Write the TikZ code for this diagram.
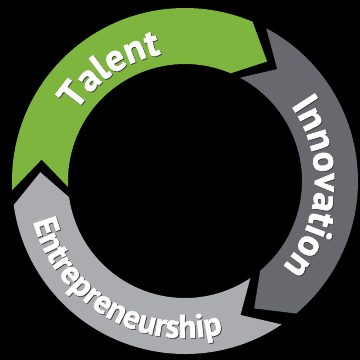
\documentclass[tikz,border=0pt]{standalone}
\usepackage{fontspec}
\setmainfont{PT Sans}[BoldFeatures={FakeBold=1.6}]
\usetikzlibrary{decorations.text}
\definecolor{tgreen}{RGB}{126,181,62}
\definecolor{tdark}{RGB}{104,105,110}
\definecolor{tlight}{RGB}{170,172,175}
\definecolor{tshade}{RGB}{60,60,60}
\newcommand\ringseg[3]{%
  \fill[#1] (#2:173pt) arc[start angle=#2, end angle=#3, radius=173pt]
    -- ({#3-11.5}:145pt) -- (#3:117pt)
    arc[start angle=#3, end angle=#2, radius=117pt]
    -- ({#2-11.5}:145pt) -- cycle;}
\tikzset{
  ringtext/.style n args={3}{decorate, decoration={text along path, text align=center, text color=#3,
    text={|\fontsize{#1}{#1}\selectfont\bfseries|#2}}}
}
\newcommand\ringlabel[6]{% size, text, start, end, radius, shade opacity
  \path[ringtext={#1}{#2}{tshade}, opacity=#6, shift={(0.8pt,-0.8pt)}] (#3:#5) arc[start angle=#3, end angle=#4, radius=#5];
  \path[ringtext={#1}{#2}{white}] (#3:#5) arc[start angle=#3, end angle=#4, radius=#5];}
\begin{document}
\begin{tikzpicture}[x=1pt,y=1pt]
\fill[black] (0,0) rectangle (360,360);
\useasboundingbox (0,0) rectangle (360,360);
\begin{scope}[shift={(185,179)}]
  \ringseg{tgreen}{183}{67}
  \ringseg{tdark}{62}{-50}
  \ringseg{tlight}{-56}{-172}
  \ringlabel{38}{Talent}{174}{74}{129pt}{0.6}
  \ringlabel{38}{Innovation}{47}{-53}{130pt}{0.6}
  \ringlabel{33}{Entrepreneurship}{180}{299}{157pt}{0.6}
\end{scope}
\end{tikzpicture}
\end{document}
